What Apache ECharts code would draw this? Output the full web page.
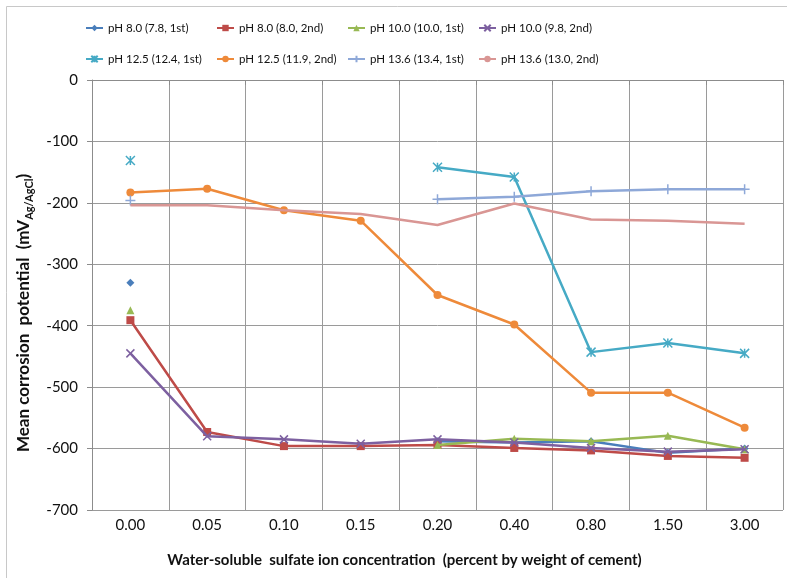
<!DOCTYPE html>
<html><head><meta charset="utf-8">
<script src="https://cdn.jsdelivr.net/npm/echarts@6/dist/echarts.min.js"></script>
<style>html,body{margin:0;padding:0;background:#fff}#c{width:787px;height:578px}</style>
</head><body><div id="c"></div>
<script>
var categories = ['0.00','0.05','0.10','0.15','0.20','0.40','0.80','1.50','3.00'];
var seriesNames = ['pH 8.0 (7.8, 1st)','pH 8.0 (8.0, 2nd)','pH 10.0 (10.0, 1st)','pH 10.0 (9.8, 2nd)',
                   'pH 12.5 (12.4, 1st)','pH 12.5 (11.9, 2nd)','pH 13.6 (13.4, 1st)','pH 13.6 (13.0, 2nd)'];
var ph80_1st  = [-330, null, null, null, -588, -590, -588, -607, -600];
var ph80_2nd  = [-391, -573, -596, -596, -594, -599, -603, -612, -615];
var ph100_1st = [-375, null, null, null, -594, -584, -588, -579, -601];
var ph100_2nd = [-445, -580, -585, -592, -585, -590, -599, -605, -601];
var ph125_1st = [-131, null, null, null, -142, -158, -443, -428, -445];
var ph125_2nd = [-183, -177, -212, -229, -350, -398, -509, -509, -566];
var ph136_1st = [-196, null, null, null, -194, -190, -181, -178, -178];
var ph136_2nd = [-204, -204, -212, -218, -236, -201, -227, -229, -234];
var yTicks = {min: -700, max: 0, interval: 100};

var colors = ['#4A7EBB','#BE4B48','#98B954','#7D60A0','#46AAC5','#EE8A3A','#8EA8D8','#D99694'];
var symbols = ['diamond','rect','triangle','path://M0,0L10,10M10,0L0,10','path://M0,0L10,10M10,0L0,10M5,0L5,10','circle','path://M5,0L5,10M0,5L10,5','none'];
var sizes = [8,8,8,8,9,8,10,0];
var dataSets = [ph80_1st, ph80_2nd, ph100_1st, ph100_2nd, ph125_1st, ph125_2nd, ph136_1st, ph136_2nd];

var font = 'Lato, "Open Sans", sans-serif';
var txt = '#111';

var series = dataSets.map(function(d, i){
  var stroke = symbols[i].indexOf('path://') === 0;
  return {
    name: seriesNames[i], type: 'line', data: d,
    symbol: symbols[i], symbolSize: sizes[i], showSymbol: symbols[i] !== 'none',
    showAllSymbol: true, connectNulls: false,
    lineStyle: {color: colors[i], width: 2.5},
    itemStyle: {color: colors[i], borderColor: colors[i], borderWidth: stroke ? 1.5 : 0},
    emphasis: {disabled: true}, animation: false, z: 2 + i
  };
});

var legendLeft = [85, 216, 347, 478];
var legendTop = [22, 53];
var legends = seriesNames.map(function(n, i){
  return {
    data: [n], left: legendLeft[i % 4], top: legendTop[Math.floor(i / 4)],
    itemWidth: 17, itemHeight: 8, padding: 0,
    textStyle: {fontFamily: font, fontSize: 11.5, color: txt},
    selectedMode: false
  };
});

var chart = echarts.init(document.getElementById('c'), null, {renderer: 'canvas'});
chart.setOption({
  animation: false,
  backgroundColor: '#fff',
  color: colors,
  legend: legends,
  graphic: [{type: 'rect', shape: {x: 6.5, y: 6.5, width: 800, height: 600}, style: {fill: 'none', stroke: '#c8c8c8', lineWidth: 1}, silent: true}],
  grid: {left: 92, right: 4, top: 80, bottom: 68, containLabel: false},
  xAxis: {
    type: 'category', data: categories, boundaryGap: true,
    axisLine: {show: true, lineStyle: {color: '#8c8c8c', width: 1}},
    axisTick: {show: true, length: 5, lineStyle: {color: '#8c8c8c'}},
    axisLabel: {fontFamily: font, fontSize: 15, color: txt, margin: 8},
    splitLine: {show: true, lineStyle: {color: '#9a9a9a', width: 1}},
    name: 'Water-soluble  sulfate ion concentration  (percent by weight of cement)',
    nameLocation: 'middle', nameGap: 43,
    nameTextStyle: {fontFamily: font, fontSize: 15, fontWeight: 'bold', color: txt, padding: [0, 66, 0, 0]}
  },
  yAxis: {
    type: 'value', min: yTicks.min, max: yTicks.max, interval: yTicks.interval,
    axisLine: {show: true, lineStyle: {color: '#8c8c8c', width: 1}},
    axisTick: {show: true, length: 5, lineStyle: {color: '#8c8c8c'}},
    axisLabel: {fontFamily: font, fontSize: 15, color: txt, margin: 14},
    splitLine: {show: true, lineStyle: {color: '#9a9a9a', width: 1}},
    name: '{m|Mean corrosion  potential  (mV}{s|Ag/AgCl}{m|)}',
    nameLocation: 'middle', nameRotate: 90, nameGap: 57,
    nameTextStyle: {
      fontFamily: font, fontSize: 17, fontWeight: 'bold', color: txt, padding: [0, 36, 0, 0],
      rich: {
        m: {fontFamily: font, fontSize: 17, fontWeight: 'bold', color: txt, lineHeight: 22, verticalAlign: 'middle'},
        s: {fontFamily: font, fontSize: 11, fontWeight: 'bold', color: txt, lineHeight: 22, padding: [10, 0, 0, 0]}
      }
    }
  },
  series: series
});
</script></body></html>
